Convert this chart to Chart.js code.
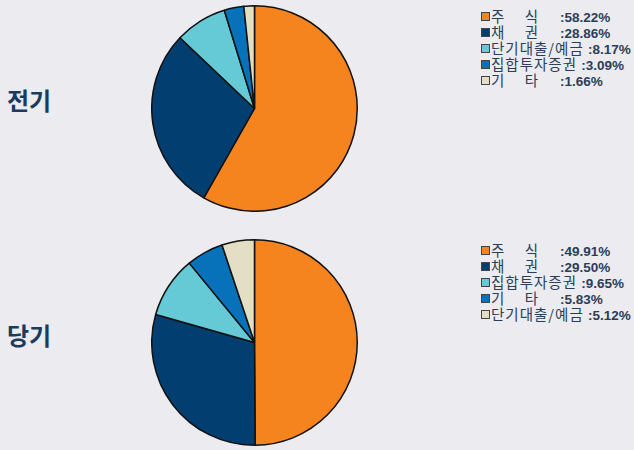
<!DOCTYPE html>
<html>
<head>
<meta charset="utf-8">
<script src="https://cdn.jsdelivr.net/npm/chart.js@4"></script>
<style>
  html, body { margin: 0; padding: 0; background: #ebebf0; }
  #wrap { position: relative; width: 634px; height: 450px; overflow: hidden; font-family: "Noto Sans CJK KR", "Noto Sans", sans-serif; }
  .titulo { position: absolute; left: 7px; font-size: 24px; font-weight: bold; color: #1a3a5e; }
  .pastel { position: absolute; left: 151px; width: 207px; height: 207px; }
  .leyenda { position: absolute; left: 481px; font-size: 14.5px; color: #2c3e57; line-height: 16px; }
  .fila { white-space: nowrap; height: 16px; }
  .caja { display: inline-block; width: 7px; height: 7px; border: 1px solid #444; margin-right: 1px; vertical-align: 1px; }
  .nombre { display: inline-block; min-width: 69px; letter-spacing: 1px; white-space: pre; }
  .corto { display: inline-block; width: 47px; text-align: justify; text-align-last: justify; letter-spacing: 0; }
  .valor { font-family: "Liberation Sans", Arial, sans-serif; font-weight: bold; font-size: 13.5px; }
</style>
</head>
<body>
<div id="wrap">
  <div class="titulo" style="top:82px">전기</div>
  <div class="pastel" style="top:5px"><canvas id="c1"></canvas></div>
  <div class="leyenda" id="l1" style="top:8px"></div>

  <div class="titulo" style="top:317px">당기</div>
  <div class="pastel" style="top:239px"><canvas id="c2"></canvas></div>
  <div class="leyenda" id="l2" style="top:242px"></div>
</div>
<script>
// Datos del periodo anterior (전기)
const categoriasPrev = ['주 식', '채 권', '단기대출/예금', '집합투자증권', '기 타'];
const valoresPrev = [58.22, 28.86, 8.17, 3.09, 1.66];

// Datos del periodo actual (당기)
const categoriasAct = ['주 식', '채 권', '집합투자증권', '기 타', '단기대출/예금'];
const valoresAct = [49.91, 29.50, 9.65, 5.83, 5.12];

// Colores por posicion
const colores = ['#f5841f', '#033e70', '#66cad6', '#0772ba', '#e3dec4'];

function crearPastel(id, valores, etiquetas) {
  const ctx = document.getElementById(id).getContext('2d');
  new Chart(ctx, {
    type: 'pie',
    data: {
      labels: etiquetas,
      datasets: [{
        data: valores,
        backgroundColor: colores,
        borderColor: '#111',
        borderWidth: 1.5
      }]
    },
    options: {
      responsive: true,
      maintainAspectRatio: false,
      animation: false,
      layout: { padding: 0 },
      plugins: {
        legend: { display: false },
        tooltip: { enabled: false }
      }
    }
  });
}

function crearLeyenda(id, valores, etiquetas) {
  const cont = document.getElementById(id);
  etiquetas.forEach((nombre, i) => {
    const fila = document.createElement('div');
    fila.className = 'fila';
    // nombres cortos van justificados en una columna fija
    const texto = nombre.includes(' ') ? '<span class="corto">' + nombre + '</span>' : nombre + ' ';
    fila.innerHTML = '<span class="caja" style="background:' + colores[i] + '"></span>' +
      '<span class="nombre">' + texto + '</span>' +
      '<span class="valor">:' + valores[i].toFixed(2) + '%</span>';
    cont.appendChild(fila);
  });
}

crearPastel('c1', valoresPrev, categoriasPrev);
crearPastel('c2', valoresAct, categoriasAct);
crearLeyenda('l1', valoresPrev, categoriasPrev);
crearLeyenda('l2', valoresAct, categoriasAct);
</script>
</body>
</html>
